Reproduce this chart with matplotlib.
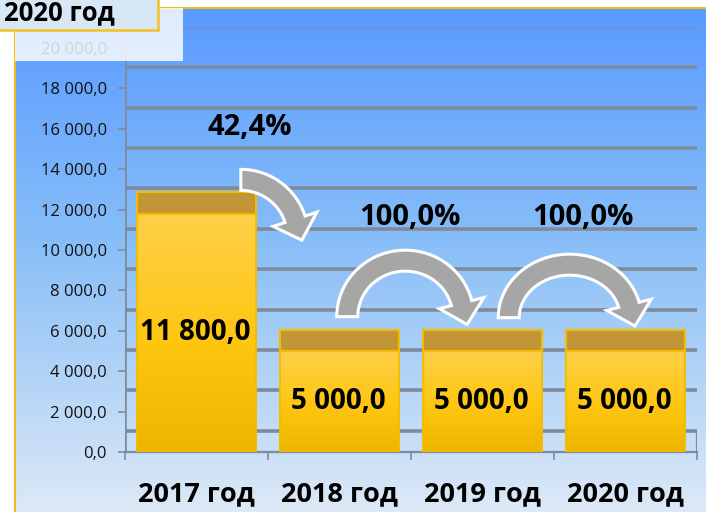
import numpy as np
import matplotlib
matplotlib.use("Agg")
import matplotlib.pyplot as plt
from matplotlib.patches import Rectangle, Polygon
from matplotlib.colors import LinearSegmentedColormap
from matplotlib.transforms import IdentityTransform

# ---------------- data ----------------
categories = ["2017 год", "2018 год", "2019 год", "2020 год"]
values = [11800.0, 5000.0, 5000.0, 5000.0]
value_labels = ["11 800,0", "5 000,0", "5 000,0", "5 000,0"]
pct_labels = ["42,4%", "100,0%", "100,0%"]
yticks = list(range(0, 20001, 2000))
title_text = "2020 год"

def fmt(v):
    return f"{v:,.1f}".replace(",", " ").replace(".", ",")

W, H = 706, 512
fig = plt.figure(figsize=(W / 100, H / 100), dpi=100)
fig.patch.set_facecolor("white")

def fx(px):
    return px / W

def fy(py):
    return 1 - py / H

FONT = "Open Sans"
plt.rcParams["font.family"] = [FONT, "DejaVu Sans"]

# ---------------- background panel with gradient ----------------
bg = fig.add_axes([fx(15), 0, 1 - fx(15), fy(8)])
bg.set_axis_off()
bg_cmap = LinearSegmentedColormap.from_list(
    "bgc", [(0.0, "#5A9AFF"), (0.45, "#86BDF8"), (1.0, "#DDE9F6")])
grad = np.linspace(0, 1, 256).reshape(-1, 1)
bg.imshow(grad, aspect="auto", cmap=bg_cmap, extent=[0, 1, 0, 1], origin="upper")
bg.set_xlim(0, 1)
bg.set_ylim(0, 1)
fig.add_artist(plt.Line2D([fx(15), fx(15)], [0, fy(8)], color="#EEBB22", lw=1.5, zorder=2))
fig.add_artist(plt.Line2D([fx(15), 1], [fy(8), fy(8)], color="#EEBB22", lw=1.5, zorder=2))

# ---------------- main axes ----------------
depth = 1050.0
ymax = 21000.0
y0_px, y20k_px = 452, 48
ppu = (y0_px - y20k_px) / 20000.0
top_px = y0_px - ymax * ppu
ax = fig.add_axes([fx(125), fy(y0_px), fx(697) - fx(125), (y0_px - top_px) / H])
ax.set_facecolor("none")
ax.set_xlim(-0.5, len(categories) - 0.5)
ax.set_ylim(0, ymax)
for s in ax.spines.values():
    s.set_visible(False)

grid_c = "#7E8B9C"
for v in yticks:
    ax.plot([-0.5, len(categories) - 0.5], [v + depth, v + depth], color=grid_c, lw=2.6,
            solid_capstyle="round", zorder=1)
ax.plot([-0.5, -0.5], [0, ymax], color=grid_c, lw=2.6, zorder=1)
ax.plot([len(categories) - 0.5] * 2, [0, depth], color=grid_c, lw=1.6, zorder=1)
ax.plot([-0.5, len(categories) - 0.5], [0, 0], color=grid_c, lw=1.6, zorder=1, clip_on=False)

ax.set_yticks(yticks)
ax.set_yticklabels([fmt(v) for v in yticks], fontsize=12, color="#111111")
ax.tick_params(axis="y", length=5, width=1.2, color=grid_c, pad=8)

xs = np.arange(len(categories))
ax.set_xticks(xs)
ax.set_xticklabels(categories, fontsize=19.5, fontweight="bold", color="black")
ax.tick_params(axis="x", length=0, pad=21)
ax.set_xticks(np.arange(-0.5, len(categories)), minor=True)
ax.tick_params(axis="x", which="minor", length=6, width=1.2, color=grid_c)

# ---------------- bars ----------------
bw = 0.83
bar_cmap = LinearSegmentedColormap.from_list(
    "barc", [(0.0, "#FFD04A"), (0.55, "#FEC60E"), (1.0, "#EDB500")])
bars = ax.bar(xs, values, width=bw, color="#FFC61A", edgecolor="#F0B800", lw=1.2, zorder=3)
for b in bars:
    x0, w_, h_ = b.get_x(), b.get_width(), b.get_height()
    im = ax.imshow(np.linspace(0, 1, 256).reshape(-1, 1), cmap=bar_cmap, aspect="auto",
                   extent=[x0, x0 + w_, 0, h_], origin="upper", zorder=3.1)
    im.set_clip_path(b)
    ax.add_patch(Rectangle((x0, 0), w_, h_, fill=False, edgecolor="#F2BC00", lw=1.2, zorder=3.2))
ax.bar(xs, [depth] * len(values), bottom=values, width=bw, color="#C29636",
       edgecolor="#F2BC00", lw=1.5, zorder=3.3)
ax.set_xlim(-0.5, len(categories) - 0.5)
ax.set_ylim(0, ymax)

for x, v, lab in zip(xs, values, value_labels):
    ax.text(x - 0.01, v / 2, lab, ha="center", va="center", fontsize=20,
            fontweight="bold", color="black", zorder=5)

# ---------------- curved arrows (built in display pixels) ----------------
def curved_arrow(center_data, rx, ry, t0, t1, hw=10.5, head_w=23, head_l=22):
    cx, cy = ax.transData.transform(center_data)
    ts = np.radians(np.linspace(t0, t1, 80))
    outer = np.c_[cx + (rx + hw) * np.cos(ts), cy + (ry + hw) * np.sin(ts)]
    inner = np.c_[cx + (rx - hw) * np.cos(ts), cy + (ry - hw) * np.sin(ts)]
    te = ts[-1]
    ex, ey = cx + rx * np.cos(te), cy + ry * np.sin(te)
    sgn = np.sign(t1 - t0)
    d = np.array([-rx * np.sin(te), ry * np.cos(te)]) * sgn
    d /= np.hypot(*d)
    n = np.array([np.cos(te), np.sin(te)])
    wo = np.array([ex, ey]) + n * head_w
    wi = np.array([ex, ey]) - n * head_w
    tip = np.array([ex, ey]) + d * head_l
    pts = np.vstack([outer, wo, tip, wi, inner[::-1]])
    poly = Polygon(pts, closed=True, transform=IdentityTransform(), facecolor="#A6A6A6",
                   edgecolor="white", lw=2.2, joinstyle="miter", zorder=6)
    fig.add_artist(poly)

curved_arrow((0.31, 10650), 57, 57, 90, 18)
curved_arrow((1.46, 6700), 58, 56, 180, 14)
curved_arrow((2.61, 6650), 61, 53, 180, 14)

pct_pos = [(0.375, 16050), (1.49, 11600), (2.70, 11600)]
for (px_, py_), lab in zip(pct_pos, pct_labels):
    ax.text(px_, py_, lab, ha="center", va="center", fontsize=21,
            fontweight="bold", color="black", zorder=7)

# ---------------- overlays top-left ----------------
fig.add_artist(Rectangle((fx(15), fy(61)), fx(183) - fx(15), fy(8) - fy(61),
                         transform=fig.transFigure, facecolor="white", alpha=0.82,
                         edgecolor="none", zorder=10))
fig.add_artist(Rectangle((fx(-2), fy(30)), fx(158) - fx(-2), fy(-2) - fy(30),
                         transform=fig.transFigure, facecolor="#D8E7F6",
                         edgecolor="#F2C21E", lw=1.8, zorder=11))
fig.text(fx(4), fy(20), title_text, ha="left", va="baseline", fontsize=18.5,
         fontweight="bold", color="black", zorder=12)

fig.savefig("out.png", dpi=100)
